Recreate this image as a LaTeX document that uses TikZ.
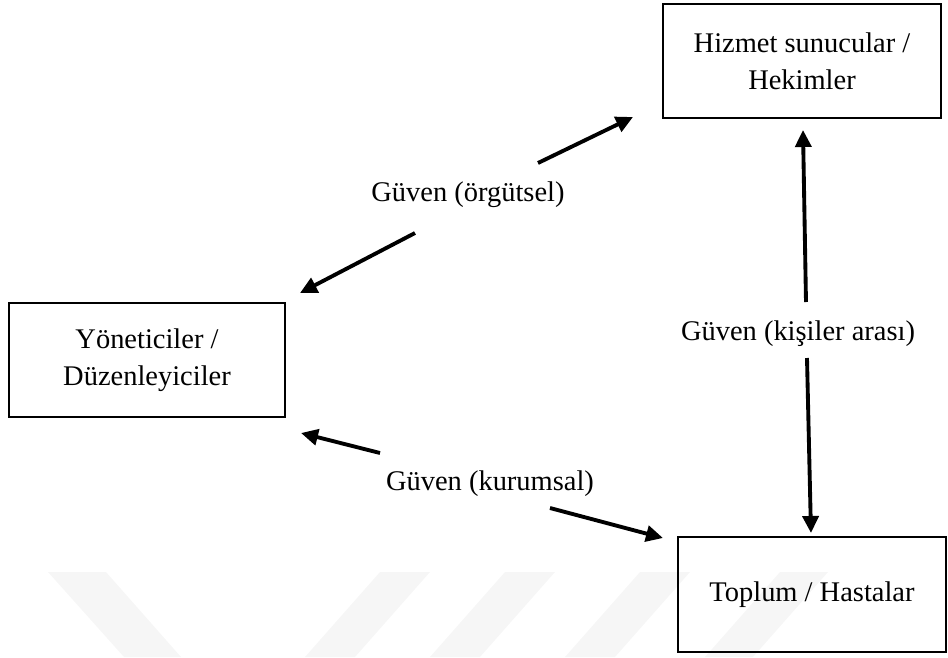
\documentclass[tikz,border=0pt]{standalone}
\usepackage{fontspec}
\setmainfont{Liberation Serif}
\usetikzlibrary{arrows.meta}

\begin{document}
\begin{tikzpicture}[x=0.02cm, y=-0.02cm,
  font=\fontsize{16.2pt}{21pt}\selectfont,
  kutu/.style={draw, line width=1.4pt, align=center, inner sep=0pt},
  ok/.style={line width=2.2pt, -{Triangle[length=0.34cm, width=0.32cm]}},
  etiket/.style={inner sep=2pt},
  filigran/.style={fill=gray!7, draw=none}]
\useasboundingbox (0,0) rectangle (948,657);
% soluk filigran seritleri
\fill[filigran] (48,572) -- (106,572) -- (181,657) -- (124,657) -- cycle;
\fill[filigran] (380,572) -- (430,572) -- (355,657) -- (305,657) -- cycle;
\fill[filigran] (505,572) -- (555,572) -- (480,657) -- (430,657) -- cycle;
\fill[filigran] (640,572) -- (690,572) -- (615,657) -- (565,657) -- cycle;
\fill[filigran] (780,572) -- (828,572) -- (753,657) -- (705,657) -- cycle;
% hizmet sunucular, sag ust kutu
\node[kutu, minimum width=5.56cm, minimum height=2.28cm] (hizmet) at (802,61) {Hizmet sunucular /\\Hekimler};
% yoneticiler, sol kutu
\node[kutu, minimum width=5.52cm, minimum height=2.28cm] (yonetici) at (147,360) {Yöneticiler /\\Düzenleyiciler};
% toplum, sag alt kutu
\node[kutu, minimum width=5.36cm, minimum height=2.3cm] (toplum) at (812,594.5) {Toplum / Hastalar};
% guven etiketleri
\node[etiket] (lblorg) at (468,195) {Güven (örgütsel)};
\node[etiket] (lblkisi) at (798,334) {Güven (kişiler arası)};
\node[etiket] (lblkurum) at (490,484) {Güven (kurumsal)};
% ok uclari
\coordinate (org1) at (538,163);
\coordinate (org2) at (633,117);
\coordinate (org3) at (415,233);
\coordinate (org4) at (300,293);
\coordinate (kisi1) at (806,302);
\coordinate (kisi2) at (803,130);
\coordinate (kisi3) at (807,358);
\coordinate (kisi4) at (811,533);
\coordinate (kurum1) at (380,453);
\coordinate (kurum2) at (301,433);
\coordinate (kurum3) at (550,508);
\coordinate (kurum4) at (663,538);
% orgutsel guven, hizmet <-> yonetici
\draw[ok] (org1) -- (org2);
\draw[ok] (org3) -- (org4);
% kisiler arasi guven, hizmet <-> toplum
\draw[ok] (kisi1) -- (kisi2);
\draw[ok] (kisi3) -- (kisi4);
% kurumsal guven, yonetici <-> toplum
\draw[ok] (kurum1) -- (kurum2);
\draw[ok] (kurum3) -- (kurum4);
\end{tikzpicture}
\end{document}
